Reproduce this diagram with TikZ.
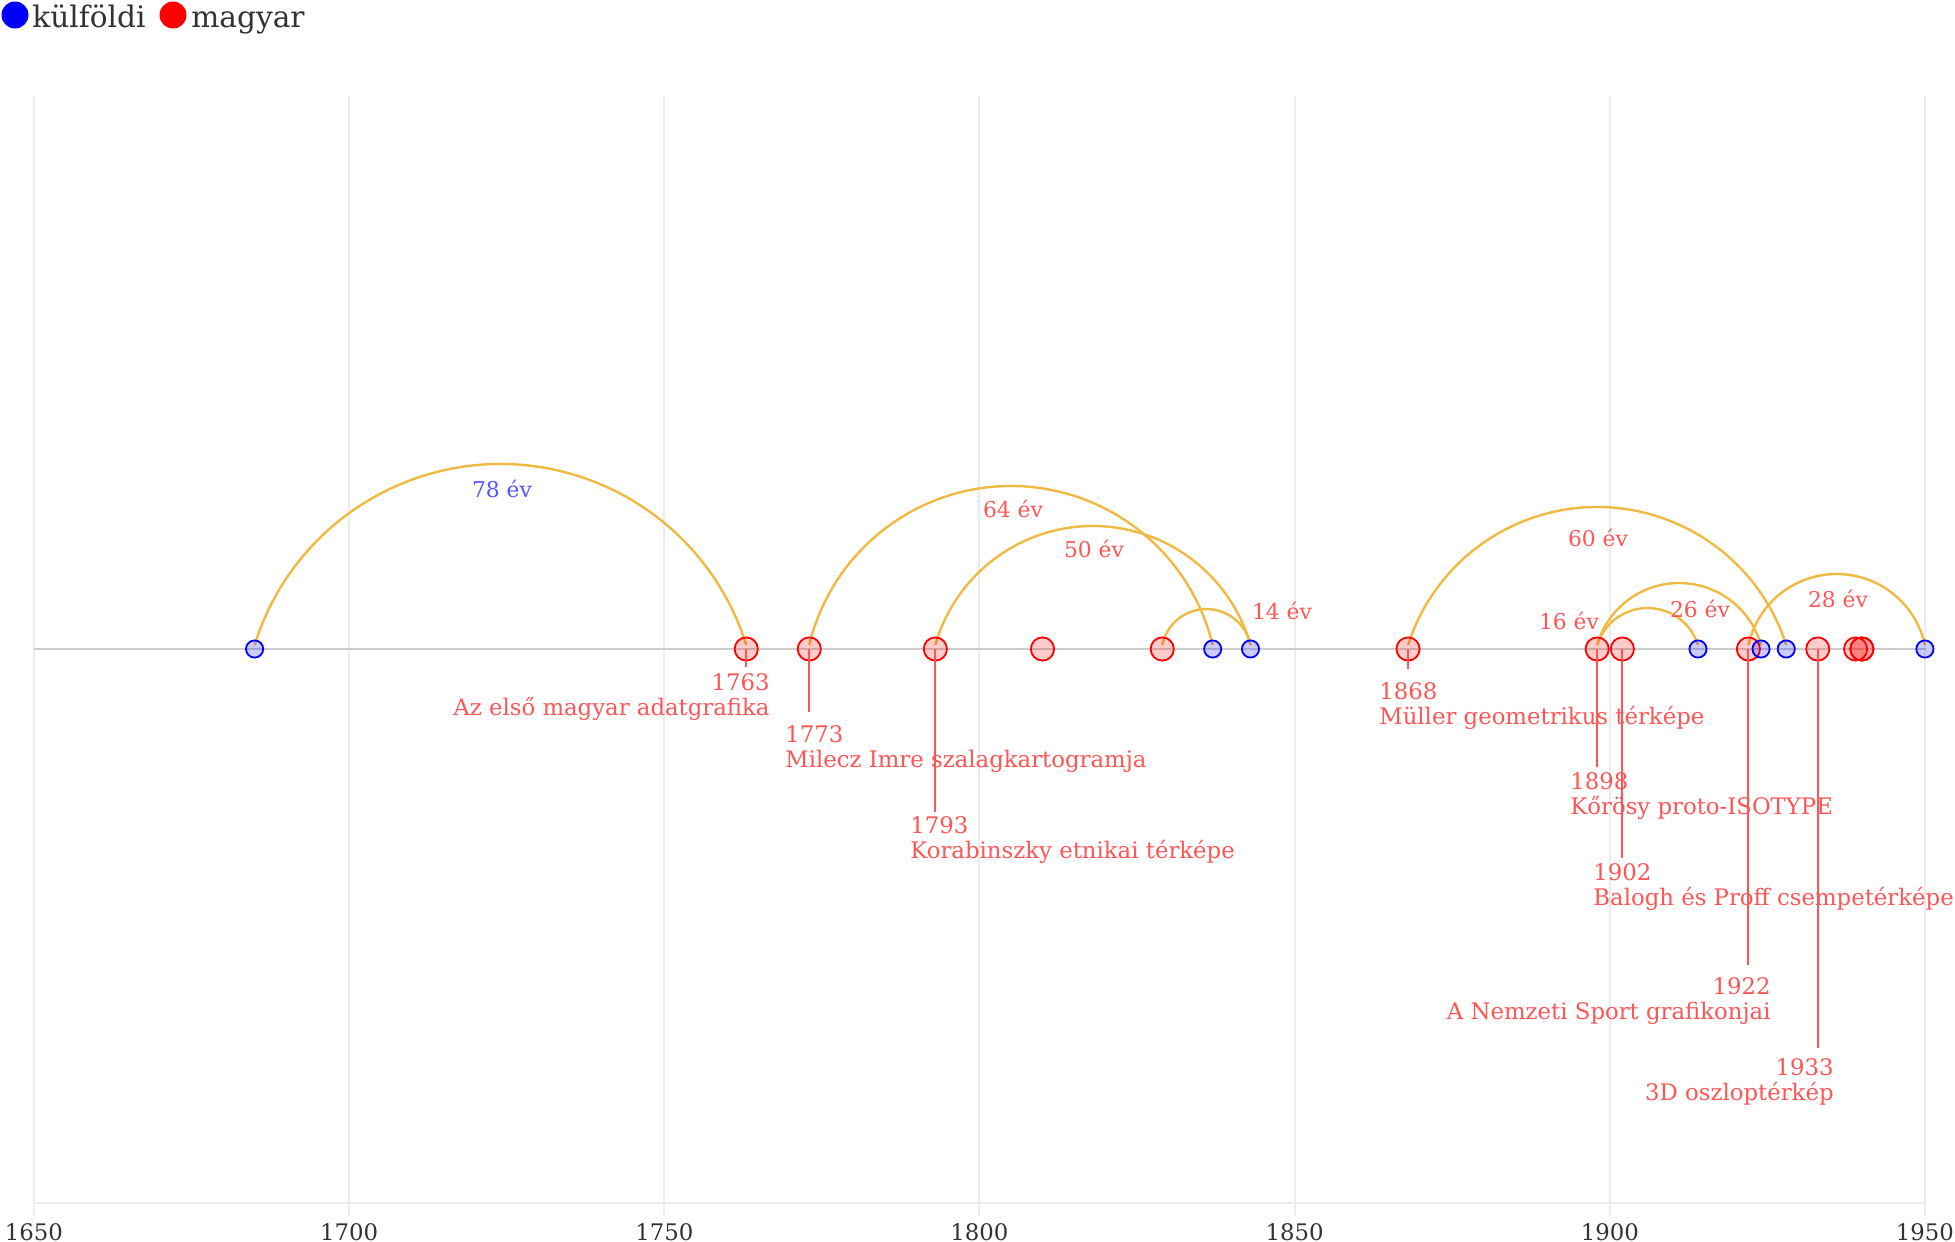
\documentclass[tikz,border=0pt]{standalone}
\usepackage{fontspec}
\setmainfont{DejaVu Serif}
\usepackage{tikz}
\usetikzlibrary{positioning}
\usepackage{xcolor}
\definecolor{kulfoldiblue}{RGB}{0,0,255}
\definecolor{magyarred}{RGB}{255,0,0}
\definecolor{labelred}{RGB}{255,85,85}
\definecolor{labelblue}{RGB}{85,85,255}
\definecolor{arcgold}{RGB}{240,185,65}
\definecolor{gridgray}{RGB}{236,236,236}
\definecolor{basegray}{RGB}{204,204,204}
\definecolor{axisgray}{RGB}{51,51,51}

\begin{document}
\begin{tikzpicture}[x=0.5pt,y=-0.5pt,
    kulfoldi/.style={circle,draw=kulfoldiblue,fill=kulfoldiblue,fill opacity=0.2,line width=0.9pt,minimum size=8.6pt,inner sep=0pt},
    magyar/.style={circle,draw=magyarred,fill=magyarred,fill opacity=0.2,line width=0.9pt,minimum size=11.6pt,inner sep=0pt},
    arcline/.style={arcgold,line width=1.2pt},
    stem/.style={labelred,line width=1pt},
    lbl/.style={labelred,inner sep=0pt,font=\fontsize{11.4}{12.5}\selectfont},
    evlbl/.style={inner sep=0pt,anchor=base,font=\fontsize{10.9}{12}\selectfont},
    axlbl/.style={axisgray,inner sep=0pt,anchor=base,font=\fontsize{11.4}{12}\selectfont},
    legtext/.style={axisgray,inner sep=0pt,anchor=base west,font=\fontsize{14.8}{16}\selectfont}]
  \useasboundingbox (0,0) rectangle (1955,1242);

  % grid and axis
  \foreach \yr in {1650,1700,...,1950} {
    \draw[gridgray,line width=1pt] ({34+6.303*(\yr-1650)},96) -- ({34+6.303*(\yr-1650)},1216);
    \node[axlbl] (ax\yr) at ({34+6.303*(\yr-1650)},1240) {\yr};
  }
  \draw[gridgray,line width=1.2pt] (34,1203) -- (1926,1203);
  \draw[basegray,line width=0.7pt] (34,649) -- (1926,649);

  % legend
  \node[circle,fill=kulfoldiblue,minimum size=13.5pt,inner sep=0pt] (legk) at (15,15) {};
  \node[legtext] (legktext) at (32,27) {külföldi};
  \node[circle,fill=magyarred,minimum size=13.5pt,inner sep=0pt] (legm) at (173,15) {};
  \node[legtext] (legmtext) at (191,27) {magyar};

  % timeline points
  \foreach \yr in {1685,1763,1773,1793,1810,1829,1837,1843,1868,1898,1902,1914,1922,1924,1928,1933,1939,1940,1950}
    \coordinate (y\yr) at ({34+6.303*(\yr-1650)},649);

  % arcs between a work and its counterpart
  \foreach \ya/\yb/\top in {1685/1763/464,1773/1837/486,1793/1843/526,1829/1843/609,
                            1868/1928/507,1898/1924/583,1898/1914/608,1922/1950/574} {
    \pgfmathsetmacro\a{(\yb-\ya)*3.1515}
    \pgfmathsetmacro\h{645-\top}
    \pgfmathsetmacro\r{\a*(\a/\h)/2+\h/2}
    \pgfmathsetmacro\t{atan2(\r-\h,\a)}
    \draw[arcline] (y\ya) ++(0,-4) arc[start angle=180-\t, end angle=\t, radius=\r*0.5pt];
  }

  \node[kulfoldi] (n1685) at (y1685) {};
  \node[magyar] (n1763) at (y1763) {};
  \node[magyar] (n1773) at (y1773) {};
  \node[magyar] (n1793) at (y1793) {};
  \node[magyar] (n1810) at (y1810) {};
  \node[magyar] (n1829) at (y1829) {};
  \node[kulfoldi] (n1837) at (y1837) {};
  \node[kulfoldi] (n1843) at (y1843) {};
  \node[magyar] (n1868) at (y1868) {};
  \node[magyar] (n1898) at (y1898) {};
  \node[magyar] (n1902) at (y1902) {};
  \node[kulfoldi] (n1914) at (y1914) {};
  \node[magyar] (n1922) at (y1922) {};
  \node[kulfoldi] (n1924) at (y1924) {};
  \node[kulfoldi] (n1928) at (y1928) {};
  \node[magyar] (n1933) at (y1933) {};
  \node[magyar] (n1939) at (y1939) {};
  \node[magyar] (n1940) at (y1940) {};
  \node[magyar] (n1940b) at (y1940) {};
  \node[kulfoldi] (n1950) at (y1950) {};

  % stems
  \foreach \yr/\len in {1763/18,1773/63,1793/163,1868/20,1898/118,1902/209,1922/316,1933/399}
    \draw[stem] (n\yr.center) -- ++(0,\len) coordinate (s\yr);

  % labels of the hungarian works
  \node[lbl,anchor=north east,align=right] (t1763) at (770,673) {1763\\Az első magyar adatgrafika};
  \node[lbl,anchor=north west,align=left] (t1773) at (785,725) {1773\\Milecz Imre szalagkartogramja};
  \node[lbl,anchor=north west,align=left] (t1793) at (910,816) {1793\\Korabinszky etnikai térképe};
  \node[lbl,anchor=north west,align=left] (t1868) at (1379,682) {1868\\Müller geometrikus térképe};
  \node[lbl,anchor=north west,align=left] (t1898) at (1570,772) {1898\\Kőrösy proto-ISOTYPE};
  \node[lbl,anchor=north west,align=left] (t1902) at (1593,863) {1902\\Balogh és Proff csempetérképe};
  \node[lbl,anchor=north east,align=right] (t1922) at (1771,977) {1922\\A Nemzeti Sport grafikonjai};
  \node[lbl,anchor=north east,align=right] (t1933) at (1834,1058) {1933\\3D oszloptérkép};

  % arc labels
  \node[evlbl,labelblue] (e78) at (502,497) {78 év};
  \node[evlbl,labelred] (e64) at (1013,517) {64 év};
  \node[evlbl,labelred] (e50) at (1094,557) {50 év};
  \node[evlbl,labelred] (e14) at (1282,619) {14 év};
  \node[evlbl,labelred] (e60) at (1598,546) {60 év};
  \node[evlbl,labelred] (e16) at (1569,629) {16 év};
  \node[evlbl,labelred] (e26) at (1700,617) {26 év};
  \node[evlbl,labelred] (e28) at (1838,607) {28 év};
\end{tikzpicture}
\end{document}
